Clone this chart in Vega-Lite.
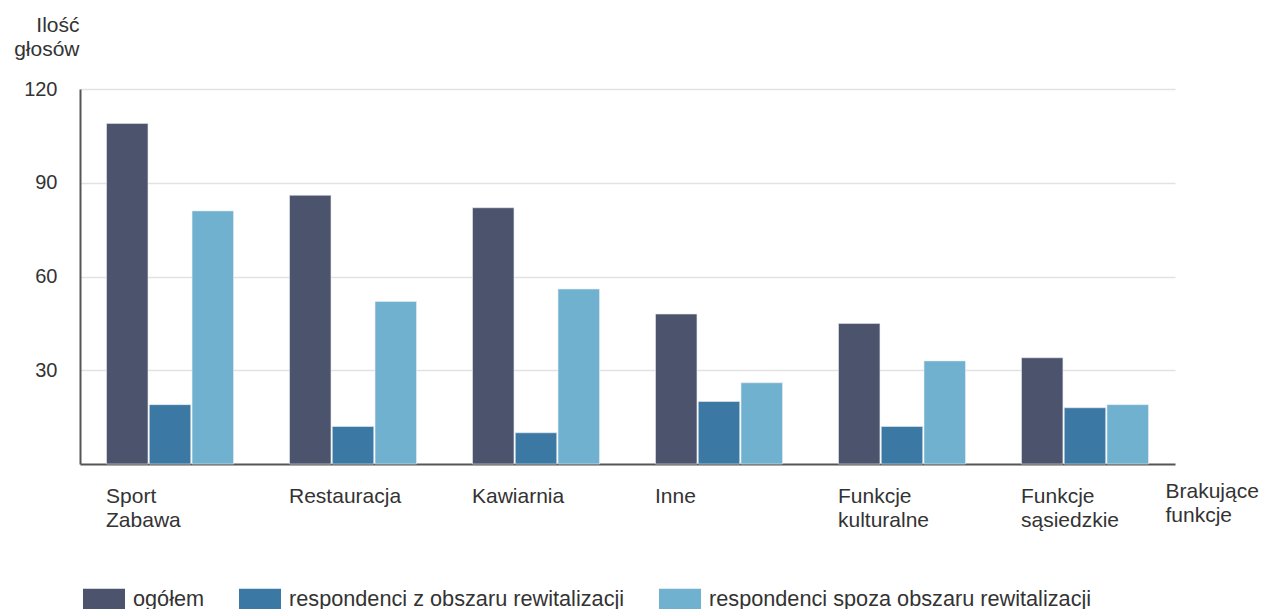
{
  "$schema": "https://vega.github.io/schema/vega-lite/v6.json",
  "width": 1095,
  "height": 375,
  "autosize": {"type": "none"},
  "padding": {"left": 80, "top": 89, "right": 88, "bottom": 145},
  "config": {
    "font": "Liberation Sans",
    "view": {"stroke": null},
    "axis": {"labelFont": "Liberation Sans", "titleFont": "Liberation Sans"}
  },
  "data": {
    "values": [
      {"funkcja": "Sport Zabawa", "grupa": "ogółem", "glosy": 109},
      {"funkcja": "Sport Zabawa", "grupa": "respondenci z obszaru rewitalizacji", "glosy": 19},
      {"funkcja": "Sport Zabawa", "grupa": "respondenci spoza obszaru rewitalizacji", "glosy": 81},
      {"funkcja": "Restauracja", "grupa": "ogółem", "glosy": 86},
      {"funkcja": "Restauracja", "grupa": "respondenci z obszaru rewitalizacji", "glosy": 12},
      {"funkcja": "Restauracja", "grupa": "respondenci spoza obszaru rewitalizacji", "glosy": 52},
      {"funkcja": "Kawiarnia", "grupa": "ogółem", "glosy": 82},
      {"funkcja": "Kawiarnia", "grupa": "respondenci z obszaru rewitalizacji", "glosy": 10},
      {"funkcja": "Kawiarnia", "grupa": "respondenci spoza obszaru rewitalizacji", "glosy": 56},
      {"funkcja": "Inne", "grupa": "ogółem", "glosy": 48},
      {"funkcja": "Inne", "grupa": "respondenci z obszaru rewitalizacji", "glosy": 20},
      {"funkcja": "Inne", "grupa": "respondenci spoza obszaru rewitalizacji", "glosy": 26},
      {"funkcja": "Funkcje kulturalne", "grupa": "ogółem", "glosy": 45},
      {"funkcja": "Funkcje kulturalne", "grupa": "respondenci z obszaru rewitalizacji", "glosy": 12},
      {"funkcja": "Funkcje kulturalne", "grupa": "respondenci spoza obszaru rewitalizacji", "glosy": 33},
      {"funkcja": "Funkcje sąsiedzkie", "grupa": "ogółem", "glosy": 34},
      {"funkcja": "Funkcje sąsiedzkie", "grupa": "respondenci z obszaru rewitalizacji", "glosy": 18},
      {"funkcja": "Funkcje sąsiedzkie", "grupa": "respondenci spoza obszaru rewitalizacji", "glosy": 19}
    ]
  },
  "mark": {"type": "bar", "stroke": "#e8ecf2", "strokeWidth": 0.6},
  "encoding": {
    "x": {
      "field": "funkcja",
      "type": "nominal",
      "sort": null,
      "scale": {"paddingInner": 0.306, "paddingOuter": 0.145},
      "axis": {
        "labelAngle": 0,
        "labelAlign": "left",
        "labelBaseline": "top",
        "labelOffset": -64,
        "labelPadding": 21,
        "labelFontSize": 21,
        "labelColor": "#333333",
        "labelExpr": "split(datum.label, ' ')",
        "labelLineHeight": 24,
        "labelLimit": 0,
        "ticks": false,
        "domainColor": "#555555",
        "domainWidth": 2,
        "title": ["Brakujące", "funkcje"],
        "titleX": 1085,
        "titleY": 16,
        "titleAlign": "left",
        "titleBaseline": "top",
        "titleFontWeight": "normal",
        "titleFontSize": 21,
        "titleLineHeight": 24,
        "titleColor": "#333333"
      }
    },
    "xOffset": {
      "field": "grupa",
      "type": "nominal",
      "sort": ["ogółem", "respondenci z obszaru rewitalizacji", "respondenci spoza obszaru rewitalizacji"],
      "scale": {"paddingInner": 0.03}
    },
    "y": {
      "field": "glosy",
      "type": "quantitative",
      "scale": {"domain": [0, 120]},
      "axis": {
        "values": [30, 60, 90, 120],
        "grid": true,
        "gridColor": "#e2e2e2",
        "gridWidth": 1.5,
        "ticks": false,
        "labelPadding": 23,
        "labelFontSize": 20,
        "labelColor": "#333333",
        "domainColor": "#555555",
        "domainWidth": 2,
        "title": ["Ilość", "głosów"],
        "titleAngle": 0,
        "titleX": -1,
        "titleY": -75,
        "titleAlign": "right",
        "titleBaseline": "top",
        "titleFontWeight": "normal",
        "titleFontSize": 21,
        "titleLineHeight": 24,
        "titleColor": "#333333"
      }
    },
    "color": {
      "field": "grupa",
      "type": "nominal",
      "scale": {
        "domain": ["ogółem", "respondenci z obszaru rewitalizacji", "respondenci spoza obszaru rewitalizacji"],
        "range": ["#4b546c", "#3b78a4", "#6fb1cf"]
      },
      "legend": {
        "orient": "none",
        "legendX": 3,
        "legendY": 489,
        "direction": "horizontal",
        "title": null,
        "symbolType": "M-1,-0.5H1V0.5H-1Z",
        "symbolSize": 1764,
        "symbolStrokeWidth": 0,
        "symbolOpacity": 1,
        "labelFontSize": 21.7,
        "labelColor": "#333333",
        "labelOffset": 8,
        "columnPadding": 34,
        "labelLimit": 0
      }
    }
  }
}
